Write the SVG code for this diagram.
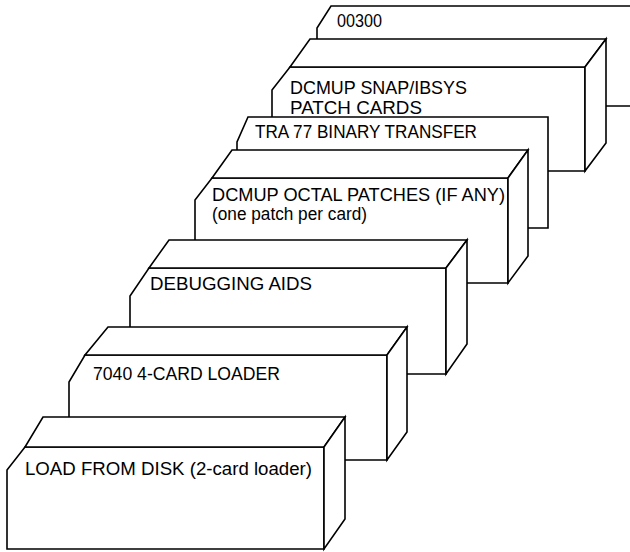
<svg xmlns="http://www.w3.org/2000/svg" width="630" height="552" viewBox="0 0 630 552">
<style>
.f{fill:#fff;stroke:#000;stroke-width:1.6;stroke-linejoin:miter}
.t{font-family:"Liberation Sans",Arial,sans-serif;font-size:17.5px;fill:#000}
</style>
<rect width="630" height="552" fill="#fff"/>
<g id="card-00300">
<polygon class="f" points="317,70 317,28 331,6 640,6 640,106 317,106"/>
<text class="t" x="337" y="27" textLength="45" lengthAdjust="spacingAndGlyphs">00300</text>
</g>
<g id="deck-dcmup-snap">
<polygon class="f" points="272,171 272,90 290,67 585,67 585,171"/>
<polygon class="f" points="310,39 606,39 585,67 290,67"/>
<polygon class="f" points="585,67 606,39 606,143 585,171"/>
<text class="t" x="290" y="94" textLength="177" lengthAdjust="spacingAndGlyphs">DCMUP SNAP/IBSYS</text>
<text class="t" x="290" y="114" textLength="132" lengthAdjust="spacingAndGlyphs">PATCH CARDS</text>
</g>
<g id="card-tra77">
<polygon class="f" points="237,228 237,142 248,117 548,117 548,228"/>
<text class="t" x="255" y="138" textLength="222" lengthAdjust="spacingAndGlyphs">TRA 77 BINARY TRANSFER</text>
</g>
<g id="deck-octal-patches">
<polygon class="f" points="195,283 195,200 212,178 508,178 508,283"/>
<polygon class="f" points="232,150 528,150 508,178 212,178"/>
<polygon class="f" points="508,178 528,150 528,256 508,283"/>
<text class="t" x="212" y="201" textLength="293" lengthAdjust="spacingAndGlyphs">DCMUP OCTAL PATCHES (IF ANY)</text>
<text class="t" x="212" y="220" textLength="155" lengthAdjust="spacingAndGlyphs">(one patch per card)</text>
</g>
<g id="deck-debugging-aids">
<polygon class="f" points="130,374 130,296 149,268 446,268 446,374"/>
<polygon class="f" points="169,240 467,240 446,268 149,268"/>
<polygon class="f" points="446,268 467,240 467,344 446,374"/>
<text class="t" x="150" y="290" textLength="162" lengthAdjust="spacingAndGlyphs">DEBUGGING AIDS</text>
</g>
<g id="deck-7040-loader">
<polygon class="f" points="69,460 69,382 85,355 387,355 387,460"/>
<polygon class="f" points="108,327 407,327 387,355 85,355"/>
<polygon class="f" points="387,355 407,327 407,432 387,460"/>
<text class="t" x="93" y="380" textLength="187" lengthAdjust="spacingAndGlyphs">7040 4-CARD LOADER</text>
</g>
<g id="deck-load-from-disk">
<polygon class="f" points="7,549 7,470 25,447 324,447 324,549"/>
<polygon class="f" points="43,417 345,417 324,447 25,447"/>
<polygon class="f" points="324,447 345,417 345,519 324,549"/>
<text class="t" x="25" y="475" textLength="287" lengthAdjust="spacingAndGlyphs">LOAD FROM DISK (2-card loader)</text>
</g>
</svg>
